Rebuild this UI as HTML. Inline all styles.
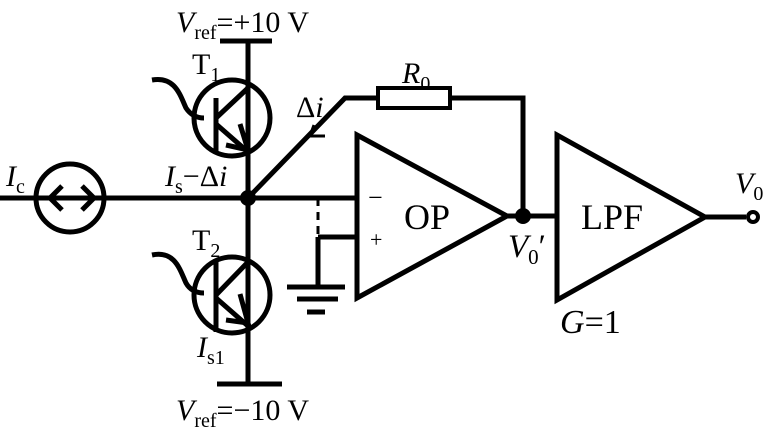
<!DOCTYPE html>
<html><head><style>body{margin:0;background:#fff}svg{display:block}</style></head><body>
<svg width="768" height="430" viewBox="0 0 768 430" xmlns="http://www.w3.org/2000/svg" font-family="Liberation Serif, serif">
<g stroke="#000" stroke-width="5" fill="none">
<line x1="0" y1="198" x2="357" y2="198"/>
<circle cx="70" cy="198" r="34"/>
<polyline points="62,186 50,198 62,210" stroke-width="5"/>
<polyline points="82,186 94,198 82,210" stroke-width="5"/>
<line x1="220" y1="41" x2="272" y2="41"/>
<line x1="248" y1="41" x2="248" y2="384"/>
<line x1="217" y1="384" x2="282" y2="384"/>
<circle cx="232" cy="118" r="38"/>
<line x1="216" y1="98" x2="216" y2="152"/>
<line x1="216" y1="118" x2="248" y2="88"/>
<line x1="216" y1="124" x2="248" y2="152"/>
<polyline points="240,124 248,150 226,145"/>
<path d="M152,80 C175,76 180,95 186,108 C190,114 196,118 204,118"/>
<circle cx="232" cy="295" r="38"/>
<line x1="216" y1="262" x2="216" y2="332"/>
<line x1="216" y1="295" x2="248" y2="262"/>
<line x1="216" y1="298" x2="248" y2="326"/>
<polyline points="240,294 248,323 226,320"/>
<path d="M152,255 C175,250 180,270 186,283 C190,290 196,293 204,293"/>
<polyline points="248,198 345,98 378,98"/>
<rect x="378" y="88" width="72" height="20" stroke-width="4"/>
<polyline points="450,98 523,98 523,216"/>
<polygon points="357,135 357,298 507,216"/>
<line x1="318" y1="237" x2="357" y2="237"/>
<line x1="318" y1="237" x2="318" y2="287"/>
<line x1="318" y1="198" x2="318" y2="237" stroke-dasharray="8,6" stroke-width="3"/>
<line x1="287" y1="287" x2="345" y2="287"/>
<line x1="297" y1="299" x2="338" y2="299"/>
<line x1="307" y1="312" x2="325" y2="312"/>
<line x1="507" y1="216" x2="557" y2="216"/>
<polygon points="557,135 557,300 705,217"/>
<line x1="705" y1="217" x2="746" y2="217"/>
<circle cx="753" cy="217" r="5" stroke-width="4"/>
<polyline points="314,125 310,136 325,136" stroke-width="3"/>
</g>
<circle cx="248" cy="198" r="8"/>
<circle cx="523" cy="216" r="8"/>
<g font-size="30" fill="#000">
<text x="176" y="32"><tspan font-style="italic">V</tspan><tspan font-size="20" dy="7">ref</tspan><tspan dy="-7">=+10 V</tspan></text>
<text x="176" y="420"><tspan font-style="italic">V</tspan><tspan font-size="20" dy="7">ref</tspan><tspan dy="-7">=−10 V</tspan></text>
<text x="192" y="74">T<tspan font-size="20" dy="7">1</tspan></text>
<text x="192" y="250">T<tspan font-size="20" dy="7">2</tspan></text>
<text x="6" y="186"><tspan font-style="italic">I</tspan><tspan font-size="20" dy="7">c</tspan></text>
<text x="165" y="186"><tspan font-style="italic">I</tspan><tspan font-size="20" dy="7">s</tspan><tspan dy="-7">−Δ</tspan><tspan font-style="italic">i</tspan></text>
<text x="197" y="357"><tspan font-style="italic">I</tspan><tspan font-size="20" dy="7">s1</tspan></text>
<text x="296" y="117">Δ<tspan font-style="italic">i</tspan></text>
<text x="402" y="83"><tspan font-style="italic">R</tspan><tspan font-size="20" dy="7">0</tspan></text>
<text x="404" y="229" font-size="36">OP</text>
<text x="581" y="229" font-size="36">LPF</text>
<text x="368" y="206" font-size="26">−</text>
<text x="370" y="247" font-size="22">+</text>
<text x="508" y="257" font-size="33"><tspan font-style="italic">V</tspan><tspan font-size="21" dy="7">0</tspan><tspan dy="-7">′</tspan></text>
<text x="560" y="333" font-size="34"><tspan font-style="italic">G</tspan>=1</text>
<text x="735" y="193"><tspan font-style="italic">V</tspan><tspan font-size="20" dy="7">0</tspan></text>
</g>
</svg>
</body></html>
